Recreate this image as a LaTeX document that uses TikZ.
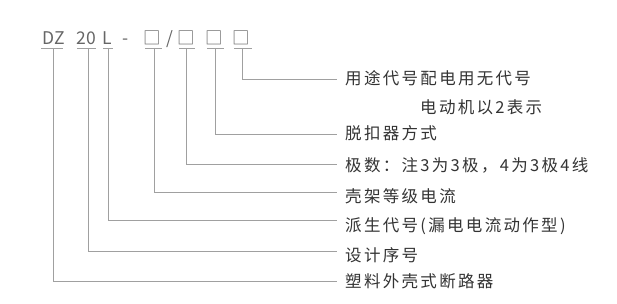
\documentclass[tikz,border=0pt]{standalone}
\usepackage{fontspec}
\setmainfont{Noto Sans CJK SC}
\newfontfamily\cjkspaced[LetterSpace=14]{Noto Sans CJK SC}
\definecolor{hdrgray}{HTML}{666666}
\definecolor{labgray}{HTML}{333333}
\definecolor{linegray}{HTML}{A0A0A0}
\begin{document}
\begin{tikzpicture}[x=1pt,y=-1pt,
  hdr/.style={font=\fontsize{17.5}{17.5}\selectfont, text=hdrgray, inner sep=0pt, anchor=base},
  lab/.style={font=\cjkspaced\fontsize{16.5}{16.5}\selectfont, text=labgray, inner sep=0pt, anchor=west},
  conn/.style={draw=linegray, line width=0.8pt}]
\useasboundingbox (0,0) rectangle (617,304);
% header
\node[hdr] (dz) at (54,45) {DZ};
\node[hdr] (n20) at (86.5,45) {20};
\node[hdr] (nl) at (107.5,45) {L};
\node[hdr] (dash) at (125.5,45) {-};
\node[hdr] (b1) at (152.5,45) {□};
\node[hdr] (sl) at (169.5,45) {/};
\node[hdr] (b2) at (186.5,45) {□};
\node[hdr] (b3) at (214.5,45) {□};
\node[hdr] (b4) at (241.5,45) {□};
% underlines
\draw[conn] (41,48) -- (63,48);
\draw[conn] (77,48) -- (96,48);
\draw[conn] (103,48) -- (113,48);
\draw[conn] (145,48) -- (162,48);
\draw[conn] (179,48) -- (195,48);
\draw[conn] (207,48) -- (224,48);
\draw[conn] (234,48) -- (252,48);
% drop points
\coordinate (d1) at (53.3,48);
\coordinate (d2) at (88,48);
\coordinate (d3) at (108.3,48);
\coordinate (d4) at (154.3,48);
\coordinate (d5) at (186,48);
\coordinate (d6) at (215,48);
\coordinate (d7) at (242.7,48);
% line ends
\coordinate (e7) at (337,79);
\coordinate (e6) at (337,134);
\coordinate (e5) at (337,164.5);
\coordinate (e4) at (337,192.7);
\coordinate (e3) at (337,220.5);
\coordinate (e2) at (337,251.5);
\coordinate (e1) at (337,281);
\draw[conn] (d7) |- (e7);
\draw[conn] (d6) |- (e6);
\draw[conn] (d5) |- (e5);
\draw[conn] (d4) |- (e4);
\draw[conn] (d3) |- (e3);
\draw[conn] (d2) |- (e2);
\draw[conn] (d1) |- (e1);
% labels
\node[lab] (l7) at (345,78) {用途代号配电用无代号};
\node[lab] (l7b) at (420,107) {电动机以2表示};
\node[lab] (l6) at (345,133) {脱扣器方式};
\node[lab] (l5) at (345,165) {极数：注3为3极，4为3极4线};
\node[lab] (l4) at (345,196.5) {壳架等级电流};
\node[lab] (l3) at (345,226) {派生代号(漏电电流动作型)};
\node[lab] (l2) at (345,255) {设计序号};
\node[lab] (l1) at (345,281.5) {塑料外壳式断路器};
\end{tikzpicture}
\end{document}
